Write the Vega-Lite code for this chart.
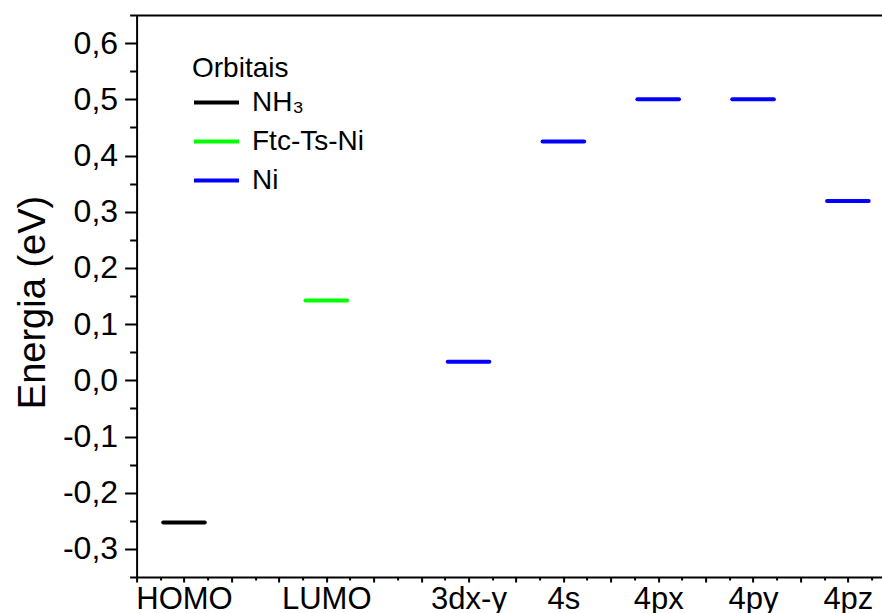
{
  "$schema": "https://vega.github.io/schema/vega-lite/v6.json",
  "autosize": {"type": "none"},
  "padding": {"left": 136.6, "top": 15, "right": 0, "bottom": 36},
  "width": 745.4,
  "height": 562,
  "background": "white",
  "config": {
    "view": {"stroke": null},
    "font": "Liberation Sans",
    "axis": {"grid": false, "domainColor": "black", "domainWidth": 2, "tickColor": "black", "tickWidth": 2, "labelColor": "black", "labelFont": "Liberation Sans", "titleFont": "Liberation Sans", "titleColor": "black", "titleFontWeight": "normal"}
  },
  "data": {
    "values": [
      {"orbital": "HOMO", "pos": 1, "energy": -0.253, "series": "NH₃"},
      {"orbital": "LUMO", "pos": 2.5, "energy": 0.142, "series": "Ftc-Ts-Ni"},
      {"orbital": "3dx-y", "pos": 4, "energy": 0.033, "series": "Ni"},
      {"orbital": "4s", "pos": 5, "energy": 0.425, "series": "Ni"},
      {"orbital": "4px", "pos": 6, "energy": 0.5, "series": "Ni"},
      {"orbital": "4py", "pos": 7, "energy": 0.5, "series": "Ni"},
      {"orbital": "4pz", "pos": 8, "energy": 0.319, "series": "Ni"}
    ]
  },
  "layer": [
    {
      "mark": {"type": "rule", "strokeWidth": 4, "strokeCap": "round", "xOffset": -20.8, "x2Offset": 20.8},
      "encoding": {
        "x": {
          "field": "pos", "type": "quantitative",
          "scale": {"domain": [0.5, 8.36], "nice": false, "zero": false},
          "axis": {
            "orient": "bottom", "title": null,
            "values": [0.5, 1, 1.5, 2, 2.5, 3, 3.5, 4, 4.5, 5, 5.5, 6, 6.5, 7, 7.5, 8],
            "labelExpr": "datum.value == 1 ? 'HOMO' : datum.value == 2.5 ? 'LUMO' : datum.value == 4 ? '3dx-y' : datum.value == 5 ? '4s' : datum.value == 6 ? '4px' : datum.value == 7 ? '4py' : datum.value == 8 ? '4pz' : ''",
            "labelFontSize": 31, "labelPadding": 2, "tickSize": 5, "labelFlush": false, "labelOverlap": false
          }
        },
        "x2": {"field": "pos"},
        "y": {
          "field": "energy", "type": "quantitative",
          "scale": {"domain": [-0.35, 0.65], "nice": false, "zero": false},
          "axis": {
            "orient": "left", "title": "Energia (eV)",
            "values": [-0.3, -0.2, -0.1, 0, 0.1, 0.2, 0.3, 0.4, 0.5, 0.6],
            "labelExpr": "replace(replace(format(datum.value, '.1f'), '.', ','), '−', '-')",
            "labelFontSize": 32, "labelPadding": 7, "tickSize": 12, "labelFlush": false, "labelOverlap": false,
            "titleFontSize": 38, "titleAngle": 270, "titleBaseline": "alphabetic", "titleAlign": "center", "titleX": -92, "titleY": 287
          }
        },
        "color": {
          "field": "series", "type": "nominal",
          "scale": {"domain": ["NH₃", "Ftc-Ts-Ni", "Ni"], "range": ["#000000", "#00ff00", "#0000ff"]},
          "legend": {
            "orient": "none", "legendX": 55.4, "legendY": 40, "padding": 0,
            "title": "Orbitais", "titleFontSize": 28, "titleFontWeight": "normal", "titleColor": "black", "titlePadding": -5, "titleFont": "Liberation Sans",
            "labelFontSize": 28, "labelColor": "black", "labelFont": "Liberation Sans", "labelOffset": 11,
            "symbolType": "stroke", "symbolSize": 2025, "symbolStrokeWidth": 4, "rowPadding": -10.5
          }
        }
      }
    },
    {
      "mark": {"type": "point", "opacity": 0},
      "encoding": {
        "x": {
          "field": "pos", "type": "quantitative",
          "axis": {
            "orient": "bottom", "title": null, "labels": false, "domain": false, "tickSize": 3,
            "values": [0.75, 1.25, 1.75, 2.25, 2.75, 3.25, 3.75, 4.25, 4.75, 5.25, 5.75, 6.25, 6.75, 7.25, 7.75, 8.25]
          }
        },
        "y": {
          "field": "energy", "type": "quantitative",
          "axis": {
            "orient": "left", "title": null, "labels": false, "domain": false, "tickSize": 7,
            "values": [-0.35, -0.25, -0.15, -0.05, 0.05, 0.15, 0.25, 0.35, 0.45, 0.55, 0.65]
          }
        }
      }
    },
    {
      "mark": {"type": "point", "opacity": 0},
      "encoding": {
        "x": {
          "field": "pos", "type": "quantitative",
          "axis": {"orient": "top", "title": null, "labels": false, "ticks": false, "domain": true}
        },
        "y": {"field": "energy", "type": "quantitative", "axis": null}
      }
    }
  ],
  "resolve": {"scale": {"x": "shared", "y": "shared"}, "axis": {"x": "independent", "y": "independent"}}
}
